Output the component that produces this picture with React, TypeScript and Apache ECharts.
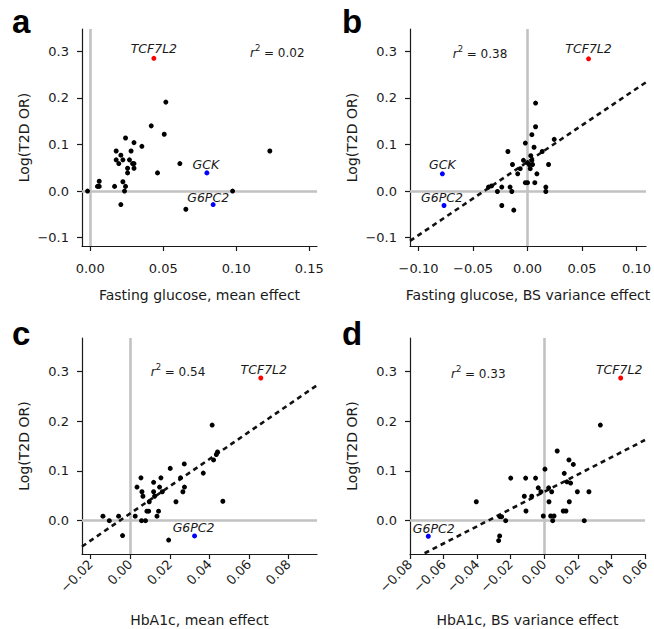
import React, { useEffect, useRef } from 'react';
import * as echarts from 'echarts';

const FONT = '"DejaVu Sans", sans-serif';
const INK = '#1a1a1a';

// ---------- Panel a: Fasting glucose, mean effect ----------
const blackA: number[][] = [
  [-0.0018, 0.0], [0.0062, 0.021], [0.0062, 0.01], [0.005, 0.01], [0.0167, 0.01],
  [0.0178, 0.086], [0.0178, 0.067], [0.0196, 0.059], [0.021, 0.077], [0.0224, 0.067],
  [0.0224, 0.02], [0.0242, 0.114], [0.0242, 0.01], [0.0235, 0.0], [0.021, -0.029],
  [0.0256, 0.049], [0.0256, 0.039], [0.0269, 0.067], [0.028, 0.086], [0.029, 0.059],
  [0.03, 0.104], [0.03, 0.059], [0.03, 0.049], [0.0354, 0.096], [0.0418, 0.14],
  [0.0461, 0.039], [0.0507, 0.122], [0.0518, 0.191], [0.0614, 0.059], [0.0655, -0.039],
  [0.0975, 0.0], [0.123, 0.086],
];
const genesA = ['TCF7L2', 'GCK', 'G6PC2'];
const geneXA = [0.0436, 0.0799, 0.0842];
const geneYA = [0.285, 0.039, -0.029];

// ---------- Panel b: Fasting glucose, BS variance effect ----------
const blackB: number[][] = [
  [0.0074, 0.189], [0.0074, 0.138], [0.004, 0.121], [-0.002, 0.103], [0.006, 0.094],
  [0.0245, 0.111], [-0.018, 0.085], [0.0135, 0.085], [-0.0138, 0.057], [0.0193, 0.057],
  [-0.0037, 0.066], [0.003, 0.076], [0.004, 0.066], [0.0015, 0.057], [0.0, 0.061],
  [0.0046, 0.057], [-0.0067, 0.048], [-0.009, 0.037], [0.0025, 0.048], [0.0086, 0.037],
  [-0.002, 0.018], [0.0, 0.018], [0.0067, 0.018], [-0.016, 0.0086], [0.0168, 0.0086],
  [0.0168, -0.001], [-0.0236, 0.0086], [-0.0358, 0.0086], [-0.033, 0.011], [-0.0276, -0.001],
  [-0.0144, -0.001], [-0.0236, -0.031], [-0.0126, -0.041],
];
const genesB = ['TCF7L2', 'GCK', 'G6PC2'];
const geneXB = [0.056, -0.0781, -0.0766];
const geneYB = [0.284, 0.037, -0.031];
const fitB: number[][] = [[-0.1078, -0.107], [0.1087, 0.2336]];

// ---------- Panel c: HbA1c, mean effect ----------
const blackC: number[][] = [
  [0.0414, 0.192], [0.0441, 0.138], [0.0435, 0.133], [0.0421, 0.122], [0.0273, 0.114],
  [0.0202, 0.105], [0.0369, 0.0955], [0.0054, 0.086], [0.0155, 0.086], [0.0254, 0.086],
  [0.0118, 0.077], [0.0034, 0.0675], [0.0148, 0.0675], [0.0274, 0.0675], [0.0059, 0.058],
  [0.0118, 0.058], [0.0162, 0.058], [0.0266, 0.058], [0.0064, 0.049], [0.0123, 0.049],
  [0.0096, 0.038], [0.0231, 0.038], [0.0468, 0.039], [0.0084, 0.019], [0.0093, 0.019],
  [0.0143, 0.019], [0.0025, 0.009], [0.0135, 0.009], [-0.0138, 0.009], [-0.0059, 0.009],
  [-0.0106, 0.0], [0.0057, 0.0], [0.0077, 0.0], [-0.0039, -0.03], [0.0194, -0.039],
];
const genesC = ['TCF7L2', 'G6PC2'];
const geneXC = [0.066, 0.0325];
const geneYC = [0.2866, -0.0307];
const fitC: number[][] = [[-0.0244, -0.052], [0.0944, 0.272]];

// ---------- Panel d: HbA1c, BS variance effect ----------
const blackD: number[][] = [
  [0.0334, 0.192], [0.0077, 0.14], [0.0147, 0.122], [0.0173, 0.113], [0.0004, 0.1035],
  [0.0119, 0.095], [-0.02, 0.0855], [-0.0111, 0.0855], [-0.0052, 0.0855], [0.0135, 0.078],
  [0.0157, 0.0755], [-0.0036, 0.066], [0.0026, 0.066], [-0.002, 0.058], [0.0044, 0.058],
  [0.0197, 0.058], [0.0266, 0.058], [-0.0119, 0.049], [-0.0075, 0.049], [-0.0405, 0.038],
  [0.0028, 0.038], [0.0149, 0.038], [-0.0109, 0.0194], [0.0113, 0.0194], [0.0129, 0.0194],
  [-0.0264, 0.008], [-0.0254, 0.008], [-0.0006, 0.0094], [0.0038, 0.0094], [0.0058, 0.0094],
  [-0.023, 0.0], [0.005, 0.0], [0.0238, 0.0], [-0.0266, -0.0307], [-0.0272, -0.04],
];
const genesD = ['TCF7L2', 'G6PC2'];
const geneXD = [0.0455, -0.0691];
const geneYD = [0.2866, -0.0314];
const fitD: number[][] = [[-0.0713, -0.0655], [0.06, 0.162]];

// ---------- axes ----------
const xTicksA = [0, 0.05, 0.1, 0.15];
const xTicksB = [-0.1, -0.05, 0, 0.05, 0.1];
const xTicksC = [-0.02, 0, 0.02, 0.04, 0.06, 0.08];
const xTicksD = [-0.08, -0.06, -0.04, -0.02, 0, 0.02, 0.04, 0.06];
const yTicksTop = [-0.1, 0, 0.1, 0.2, 0.3];
const yTicksBottom = [0, 0.1, 0.2, 0.3];
const rSquared = ['0.02', '0.38', '0.54', '0.33'];
const panelLetters = ['a', 'b', 'c', 'd'];
const xTitles = [
  'Fasting glucose, mean effect',
  'Fasting glucose, BS variance effect',
  'HbA1c, mean effect',
  'HbA1c, BS variance effect',
];
const yTitle = 'Log(T2D OR)';

const fmt = (d: number) => (v: number) => (v < 0 ? '\u2212' : '') + Math.abs(v).toFixed(d);

const grids = [
  { left: 82, top: 29, width: 235, height: 217 },
  { left: 410, top: 29, width: 236, height: 217 },
  { left: 82, top: 338, width: 235, height: 216 },
  { left: 410, top: 338, width: 235, height: 216 },
];
const xRanges = [[-0.0056, 0.1553], [-0.1078, 0.1087], [-0.0244, 0.0944], [-0.08, 0.06]];
const yRanges = [[-0.118, 0.348], [-0.118, 0.348], [-0.067, 0.367], [-0.067, 0.367]];

const labelOffsets: Record<string, number[][]> = {
  a: [[0, -1.3], [-1, 0], [-5, 2]],
  b: [[0, -1.3], [0, -1], [-2, 0.5]],
  c: [[3, 0], [-1, 0.5]],
  d: [[-1.5, 0], [5.5, 0.5]],
};

function xAxisCfg(i: number, ticks: number[], rotate: number, margin: number, nameGap: number) {
  return {
    type: 'value', gridIndex: i, min: xRanges[i][0], max: xRanges[i][1],
    name: xTitles[i], nameLocation: 'middle', nameGap,
    nameTextStyle: { fontFamily: FONT, fontSize: 14, color: INK },
    axisLine: { show: true, onZero: false, lineStyle: { color: INK, width: 1.2 } },
    axisTick: { show: true, length: 5, customValues: ticks, lineStyle: { color: INK, width: 1.2 } },
    axisLabel: {
      customValues: ticks, formatter: fmt(2), margin, rotate,
      fontFamily: FONT, fontSize: 13, color: INK,
    },
    splitLine: { show: false },
  };
}
function yAxisCfg(i: number, ticks: number[]) {
  return {
    type: 'value', gridIndex: i, min: yRanges[i][0], max: yRanges[i][1],
    name: yTitle, nameLocation: 'middle', nameGap: 51,
    nameTextStyle: { fontFamily: FONT, fontSize: 14, color: INK },
    axisLine: { show: true, onZero: false, lineStyle: { color: INK, width: 1.2 } },
    axisTick: { show: true, length: 5, customValues: ticks, lineStyle: { color: INK, width: 1.2 } },
    axisLabel: { customValues: ticks, formatter: fmt(1), margin: 13, fontFamily: FONT, fontSize: 13, color: INK },
    splitLine: { show: false },
  };
}

function panelSeries(i: number, black: number[][], genes: string[], gx: number[], gy: number[], fit: number[][] | null, offs: number[][]) {
  const s: any[] = [];
  s.push({
    type: 'scatter', xAxisIndex: i, yAxisIndex: i, data: [], z: 1, silent: true,
    markLine: {
      silent: true, symbol: 'none', animation: false, z: 1,
      label: { show: false },
      lineStyle: { color: '#c2c2c2', width: 2.6, type: 'solid', opacity: 1 },
      data: [{ xAxis: 0 }, { yAxis: 0 }],
    },
  });
  if (fit) {
    s.push({
      type: 'line', xAxisIndex: i, yAxisIndex: i, data: fit, z: 2, showSymbol: false, symbol: 'none',
      lineStyle: { color: '#111', width: 2.6, type: [5, 4] }, silent: true,
    });
  }
  s.push({
    type: 'scatter', xAxisIndex: i, yAxisIndex: i, data: black, z: 3, symbolSize: 5,
    itemStyle: { color: '#000', opacity: 1 },
  });
  s.push({
    type: 'scatter', xAxisIndex: i, yAxisIndex: i, z: 4, symbolSize: 5,
    data: genes.map((g, k) => ({
      value: [gx[k], gy[k]],
      name: g,
      itemStyle: { color: g === 'TCF7L2' ? '#ff0000' : '#0000ff', opacity: 1 },
      label: {
        show: true, position: 'top', distance: 0, offset: offs[k], formatter: g,
        fontFamily: FONT, fontStyle: 'italic', fontSize: 12.5, lineHeight: 12.5, color: INK, opacity: 1,
      },
    })),
  });
  return s;
}

const letterPos = [[12, 21.6], [342, 21.6], [12, 333.6], [342, 333.6]];
// left edge and cap-centre of each r² annotation
const rPos = [[250, 53], [452.7, 53.6], [150.7, 372.4], [451, 374]];

export default function App() {
  const ref = useRef<HTMLDivElement>(null);
  useEffect(() => {
    if (!ref.current) return;
    const chart = echarts.init(ref.current, undefined, { renderer: 'svg' });
    const graphics: any[] = [];
    panelLetters.forEach((l, i) => {
      graphics.push({
        type: 'text', x: letterPos[i][0], y: letterPos[i][1],
        style: {
          text: l, fontFamily: '"Liberation Sans Narrow", "Liberation Sans", sans-serif',
          fontWeight: 'bold', fontSize: 33, fill: '#000', textAlign: 'left', textVerticalAlign: 'middle',
          align: 'left', verticalAlign: 'middle',
        },
      });
    });
    rSquared.forEach((r, i) => {
      const x0 = rPos[i][0];
      const y0 = rPos[i][1];
      graphics.push({
        type: 'group', x: x0, y: y0,
        children: [
          {
            type: 'text', x: 0, y: 0,
            style: {
              text: 'r', fontFamily: FONT, fontStyle: 'italic', fontSize: 12, fill: INK,
              textAlign: 'left', textVerticalAlign: 'middle', align: 'left', verticalAlign: 'middle',
            },
          },
          {
            type: 'text', x: 5, y: -5,
            style: {
              text: '2', fontFamily: FONT, fontSize: 8.5, fill: INK,
              textAlign: 'left', textVerticalAlign: 'middle', align: 'left', verticalAlign: 'middle',
            },
          },
          {
            type: 'text', x: 14, y: 0,
            style: {
              text: '= ' + r, fontFamily: FONT, fontSize: 12, fill: INK,
              textAlign: 'left', textVerticalAlign: 'middle', align: 'left', verticalAlign: 'middle',
            },
          },
        ],
      });
    });
    chart.setOption({
      animation: false,
      backgroundColor: '#ffffff',
      grid: grids.map((g) => ({ ...g, containLabel: false })),
      xAxis: [
        xAxisCfg(0, xTicksA, 0, 16, 42),
        xAxisCfg(1, xTicksB, 0, 16, 42),
        xAxisCfg(2, xTicksC, 45, 8, 59),
        xAxisCfg(3, xTicksD, 45, 8, 59),
      ],
      yAxis: [
        yAxisCfg(0, yTicksTop),
        yAxisCfg(1, yTicksTop),
        yAxisCfg(2, yTicksBottom),
        yAxisCfg(3, yTicksBottom),
      ],
      series: [
        ...panelSeries(0, blackA, genesA, geneXA, geneYA, null, labelOffsets.a),
        ...panelSeries(1, blackB, genesB, geneXB, geneYB, fitB, labelOffsets.b),
        ...panelSeries(2, blackC, genesC, geneXC, geneYC, fitC, labelOffsets.c),
        ...panelSeries(3, blackD, genesD, geneXD, geneYD, fitD, labelOffsets.d),
      ],
      graphic: graphics,
    });
    return () => chart.dispose();
  }, []);
  return (
    <div
      ref={ref}
      style={{ position: 'fixed', left: 0, top: 0, width: 654, height: 629, background: '#fff' }}
    />
  );
}
